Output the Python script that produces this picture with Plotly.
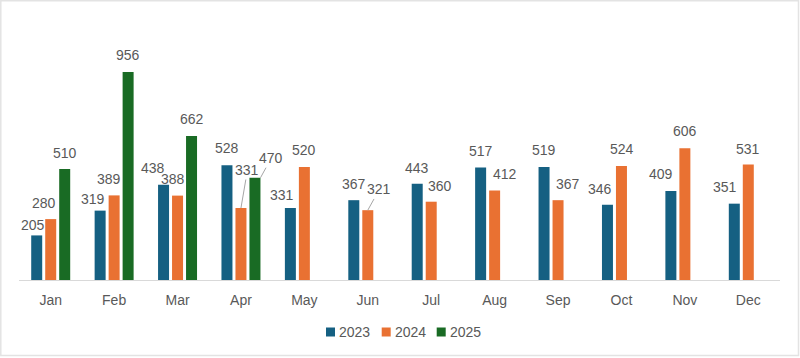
import plotly.graph_objects as go

months = ["Jan", "Feb", "Mar", "Apr", "May", "Jun", "Jul", "Aug", "Sep", "Oct", "Nov", "Dec"]
years = ["2023", "2024", "2025"]
v2023 = [205, 319, 438, 528, 331, 367, 443, 517, 519, 346, 409, 351]
v2024 = [280, 389, 388, 331, 520, 321, 360, 412, 367, 524, 606, 531]
v2025 = [510, 956, 662, 470, None, None, None, None, None, None, None, None]

colors = ["#156082", "#E97132", "#196B24"]

# label placement (pixel offsets of label centre from bar-top centre) -- style only
off2023 = [(-3.5, 10.5), (-7, 11.5), (-10.7, 16.6), (0.3, 17), (-8.5, 13), (0, 16),
           (0, 16), (0, 16.4), (0, 17), (-7.8, 16), (-9.8, 16.7), (-9.5, 16.2)]
off2024 = [(-6.5, 16), (-5.6, 16), (-5, 16.5), None, (0, 17), None,
           (8.3, 16), (10, 16), (10, 16), (0.5, 16.7), (0, 17), (0, 15.6)]
off2025 = [(0, 16), (0, 16.7), (0, 17), None] + [None] * 8
# leader-line labels: (series index, month index, head x-shift extra, ax, ay)
leaders = [(1, 3, 0, 6.5, -38), (2, 3, 5.5, 10.8, -19.6), (1, 5, 0, 11.5, -20.7)]
# legend layout (pixel x of each swatch's left edge, legend centre y)
legend_x = [326, 381.7, 436.7]
legend_y = 332

W, H = 800, 358
ML, MR, MT, MB = 19, 20, 19, 78
YMAX = 1200
SLOT = 14
FONT = "Liberation Sans, Arial, sans-serif"
TXT = "#595959"

pw = W - ML - MR
ph = H - MT - MB


def px_x(x):
    return (x - ML) / pw


def px_y(y):
    return (H - MB - y) / ph


fig = go.Figure()
for name, vals, col in zip(years, [v2023, v2024, v2025], colors):
    fig.add_trace(go.Bar(x=months, y=vals, name=name, showlegend=False,
                         marker=dict(color=col, line=dict(width=0))))

series = [v2023, v2024, v2025]
offs = [off2023, off2024, off2025]
for si, (vals, off) in enumerate(zip(series, offs)):
    slot = (si - 1) * SLOT
    for mi, v in enumerate(vals):
        if v is None or off[mi] is None:
            continue
        dx, dy = off[mi]
        fig.add_annotation(x=months[mi], y=v, text=str(v), showarrow=False,
                           xshift=slot + dx, yshift=dy, yanchor="middle",
                           font=dict(family=FONT, size=14, color=TXT))
for si, mi, extra, ax, ay in leaders:
    v = series[si][mi]
    fig.add_annotation(x=months[mi], y=v, text=str(v), showarrow=True,
                       arrowhead=0, arrowwidth=1, arrowcolor="#A6A6A6",
                       ax=ax, ay=ay, standoff=0, xshift=(si - 1) * SLOT + extra,
                       font=dict(family=FONT, size=14, color=TXT))

# legend: swatches + labels
for name, col, lx in zip(years, colors, legend_x):
    fig.add_shape(type="rect", xref="paper", yref="paper",
                  x0=px_x(lx), x1=px_x(lx + 9), y0=px_y(legend_y + 4.5), y1=px_y(legend_y - 4.5),
                  fillcolor=col, line=dict(width=0))
    fig.add_annotation(xref="paper", yref="paper", x=px_x(lx + 11), y=px_y(legend_y),
                       text=name, showarrow=False, xanchor="left", yanchor="middle",
                       font=dict(family=FONT, size=14, color=TXT))

# chart border
fig.add_shape(type="rect", xref="paper", yref="paper",
              x0=px_x(0.8), x1=px_x(W - 1.5), y0=px_y(H - 2.5), y1=px_y(0.8),
              line=dict(color="#E3E3E3", width=1.5), layer="below")

fig.update_layout(
    width=W, height=H,
    margin=dict(l=ML, r=MR, t=MT, b=MB, pad=0, autoexpand=False),
    paper_bgcolor="white", plot_bgcolor="white",
    barmode="group", bargap=0.338, bargroupgap=0.214,
    font=dict(family=FONT, size=13, color=TXT),
    showlegend=False,
    xaxis=dict(showline=True, linecolor="#D9D9D9", linewidth=1, ticks="",
               ticklabelstandoff=7,
               tickfont=dict(family=FONT, size=14, color=TXT), showgrid=False,
               fixedrange=True),
    yaxis=dict(range=[0, YMAX], visible=False, showgrid=False, zeroline=False),
)

fig.write_html("out.html", config={"displayModeBar": False},
               post_script="document.body.style.margin='0';document.body.style.padding='0';")
